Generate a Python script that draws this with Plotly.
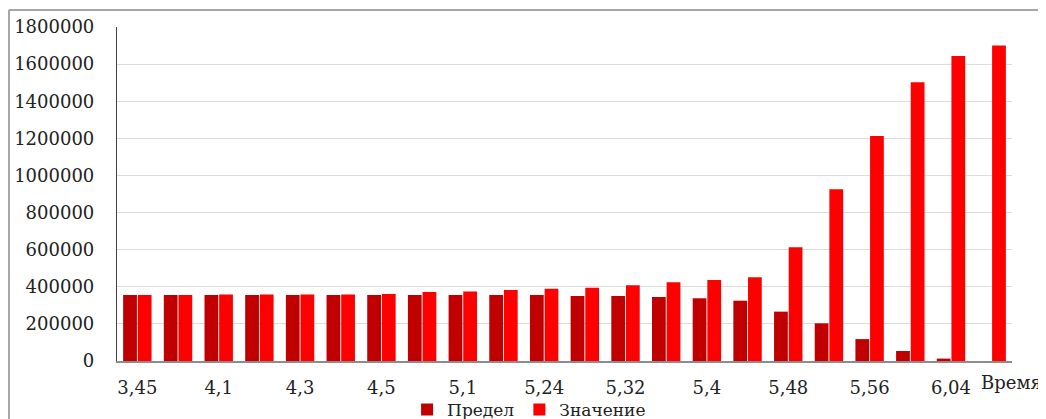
import plotly.graph_objects as go

categories = ["3,45", "4", "4,1", "4,2", "4,3", "4,4", "4,5", "5", "5,1", "5,17",
              "5,24", "5,28", "5,32", "5,36", "5,4", "5,44", "5,48", "5,52",
              "5,56", "6", "6,04", "6,08"]
tick_labels = ["3,45", "4,1", "4,3", "4,5", "5,1", "5,24", "5,32", "5,4", "5,48", "5,56", "6,04"]
predel = [356000, 356000, 356000, 356000, 356000, 356000, 356000, 356000, 356000, 356000,
          356000, 350000, 350000, 345000, 338000, 325000, 266000, 203000, 118000, 54000,
          13000, 0]
znachenie = [356000, 356000, 359000, 359000, 359000, 359000, 361000, 372000, 375000, 383000,
             390000, 395000, 408000, 424000, 437000, 451000, 613000, 925000, 1212000, 1502000,
             1644000, 1700000]
y_ticks = [0, 200000, 400000, 600000, 800000, 1000000, 1200000, 1400000, 1600000, 1800000]

FONT = "DejaVu Serif"
fig = go.Figure()
fig.add_trace(go.Bar(x=categories, y=predel, name="Предел", marker=dict(color="#C00000", line=dict(width=0))))
fig.add_trace(go.Bar(x=categories, y=znachenie, name="Значение", marker=dict(color="#FF0000", line=dict(width=0))))

fig.update_layout(
    width=1038, height=411,
    margin=dict(l=109, r=34, t=19, b=58, autoexpand=False),
    paper_bgcolor="white", plot_bgcolor="white",
    barmode="group", bargap=0.28, bargroupgap=0.06,
    font=dict(family=FONT, size=18, color="#222222"),
    showlegend=True,
    legend=dict(orientation="h", xref="container", yref="container",
                x=0.502, xanchor="center", y=0.022, yanchor="middle",
                font=dict(family=FONT, size=17, color="#222222"), itemwidth=30,
                tracegroupgap=0, bgcolor="rgba(0,0,0,0)"),
    xaxis=dict(type="category", tickmode="array", tickvals=tick_labels, ticktext=tick_labels,
               showgrid=False, showline=True, linecolor="#8C8C8C", linewidth=1.5, automargin=False,
               ticks="", ticklabelstandoff=10, tickfont=dict(family=FONT, size=18, color="#222222")),
    yaxis=dict(range=[0, 1800000], tickmode="array", tickvals=y_ticks,
               ticktext=[str(v) for v in y_ticks], automargin=False,
               showgrid=True, gridcolor="#DCDCDC", gridwidth=1, zeroline=False,
               showline=True, linecolor="#404040", linewidth=1.2, ticks="",
               ticklabelstandoff=18, tickfont=dict(family=FONT, size=18, color="#222222")),
    annotations=[dict(text="Время", xref="paper", yref="paper", x=0.999, y=-0.063,
                      xanchor="center", yanchor="middle", showarrow=False,
                      font=dict(family=FONT, size=18, color="#222222"))],
    shapes=[
        dict(type="line", xref="paper", yref="paper", x0=-0.1207, x1=1.04, y0=1.0509, y1=1.0509,
             line=dict(color="#A6A6A6", width=2)),
        dict(type="line", xref="paper", yref="paper", x0=-0.1207, x1=-0.1207, y0=1.0509, y1=-0.18,
             line=dict(color="#A6A6A6", width=2)),
    ],
)
fig.write_html("out.html")
